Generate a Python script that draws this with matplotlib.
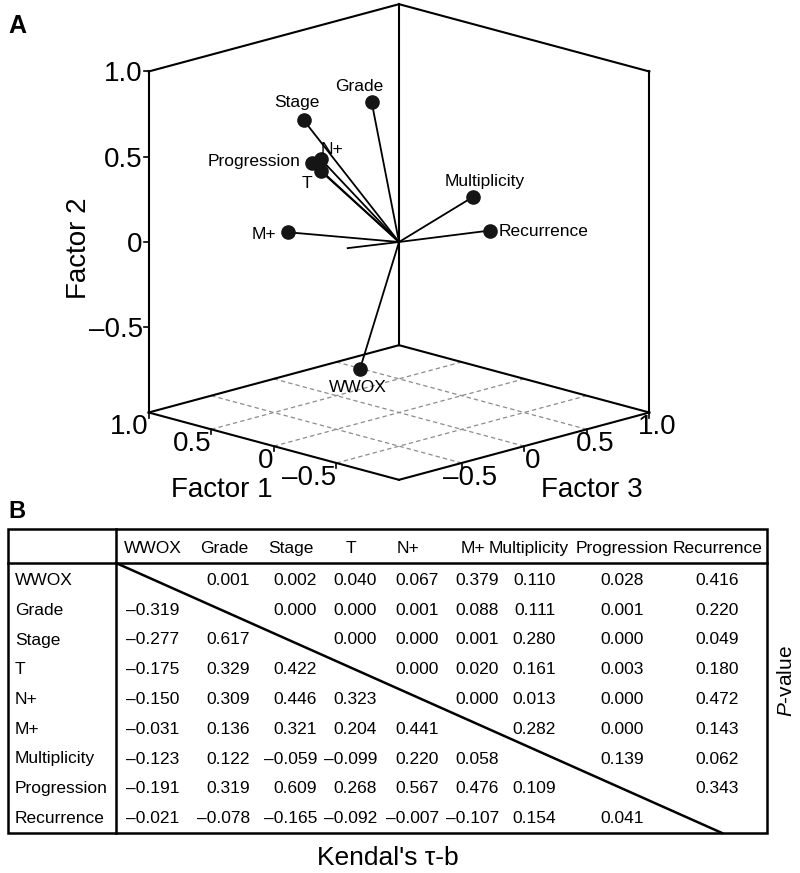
import numpy as np
import matplotlib
matplotlib.use("Agg")
import matplotlib.pyplot as plt
from matplotlib.patches import Rectangle
from mpl_toolkits.mplot3d import proj3d

plt.rcParams['font.family'] = ['Liberation Sans', 'DejaVu Sans']
plt.rcParams['mathtext.fontset'] = 'custom'
plt.rcParams['mathtext.rm'] = 'Liberation Sans'
plt.rcParams['mathtext.it'] = 'Liberation Sans:italic'

# ---------------- data: factor loadings (panel A) ----------------
variables = ['WWOX', 'Grade', 'Stage', 'T', 'N+', 'M+',
             'Multiplicity', 'Progression', 'Recurrence']
factor1 = [-0.050, 0.250, 0.720, 0.600, 0.620, 0.820, 0.050, 0.680, -0.020]
factor2 = [-0.666, 0.768, 0.580, 0.304, 0.367, -0.091, 0.128, 0.332, -0.068]
factor3 = [-0.363, 0.031, -0.041, -0.021, -0.007, -0.069, 0.642, -0.016, 0.705]
aux_vector = [0.200, -0.034, -0.210]          # short unlabeled segment (F1, F2, F3)

f2_ticks = [-0.5, 0.0, 0.5, 1.0]
f1_ticks = [1.0, 0.5, 0.0, -0.5]
f3_ticks = [-0.5, 0.0, 0.5, 1.0]
floor_grid = [-0.5, 0.0, 0.5]

# ---------------- data: Kendall tau-b / P-value table (panel B) ----------------
tau_lower = [
    [],
    [-0.319],
    [-0.277, 0.617],
    [-0.175, 0.329, 0.422],
    [-0.150, 0.309, 0.446, 0.323],
    [-0.031, 0.136, 0.321, 0.204, 0.441],
    [-0.123, 0.122, -0.059, -0.099, 0.220, 0.058],
    [-0.191, 0.319, 0.609, 0.268, 0.567, 0.476, 0.109],
    [-0.021, -0.078, -0.165, -0.092, -0.007, -0.107, 0.154, 0.041],
]
p_upper = [
    [0.001, 0.002, 0.040, 0.067, 0.379, 0.110, 0.028, 0.416],
    [0.000, 0.000, 0.001, 0.088, 0.111, 0.001, 0.220],
    [0.000, 0.000, 0.001, 0.280, 0.000, 0.049],
    [0.000, 0.020, 0.161, 0.003, 0.180],
    [0.000, 0.013, 0.000, 0.472],
    [0.282, 0.000, 0.143],
    [0.139, 0.062],
    [0.343],
    [],
]

# ---------------- figure ----------------
W, H = 800, 873
fig = plt.figure(figsize=(W / 100, H / 100), dpi=100)

# 3D axes, orthographic cube view
S = 620
cx, cy = 399.0, H - 242.0
ax = fig.add_axes([(cx - S / 2) / W, (cy - S / 2) / H, S / W, S / H],
                  projection='3d', proj_type='ortho', computed_zorder=False)
ax.view_init(elev=15.6, azim=-135)
lo, hi = -1.0, 1.0
ax.set_xlim(lo, hi); ax.set_ylim(lo, hi); ax.set_zlim(lo, hi)
ax.set_box_aspect((1, 1, 1), zoom=1.0)
ax.set_axis_off()


def P(f1, f2, f3):
    # mpl x = Factor 3, mpl y = Factor 1, mpl z = Factor 2
    return np.atleast_1d(f3), np.atleast_1d(f1), np.atleast_1d(f2)


edge_kw = dict(color='black', lw=1.5, solid_capstyle='projecting', zorder=1)
# vertical edges of the two back walls
for (a1, a3) in [(hi, lo), (hi, hi), (lo, hi)]:
    ax.plot(*P([a1, a1], [lo, hi], [a3, a3]), **edge_kw)
# top edges
ax.plot(*P([hi, hi], [hi, hi], [lo, hi]), **edge_kw)
ax.plot(*P([hi, lo], [hi, hi], [hi, hi]), **edge_kw)
# floor edges
ax.plot(*P([hi, hi], [lo, lo], [lo, hi]), **edge_kw)
ax.plot(*P([lo, lo], [lo, lo], [lo, hi]), **edge_kw)
ax.plot(*P([lo, hi], [lo, lo], [lo, lo]), **edge_kw)
ax.plot(*P([lo, hi], [lo, lo], [hi, hi]), **edge_kw)
# floor grid
grid_kw = dict(color='#8c8c8c', lw=0.9, linestyle=(0, (3.5, 2.5)), zorder=0.5)
for g in floor_grid:
    ax.plot(*P([g, g], [lo, lo], [lo, hi]), **grid_kw)
    ax.plot(*P([lo, hi], [lo, lo], [g, g]), **grid_kw)
# tick marks
tick_kw = dict(color='black', lw=1.2, zorder=1)
for t in f2_ticks:
    ax.plot(*P([hi, hi + 0.02], [t, t], [lo, lo - 0.02]), **tick_kw)
for t in f1_ticks:
    ax.plot(*P([t, t], [lo, lo - 0.03], [lo, lo]), **tick_kw)
for t in f3_ticks:
    ax.plot(*P([lo, lo], [lo, lo - 0.03], [t, t]), **tick_kw)

# loading vectors and points
vec_kw = dict(color='black', lw=1.3, zorder=3)
ax.plot(*P([0, aux_vector[0]], [0, aux_vector[1]], [0, aux_vector[2]]), **vec_kw)
for f1, f2, f3 in zip(factor1, factor2, factor3):
    ax.plot(*P([0, f1], [0, f2], [0, f3]), **vec_kw)
ax.plot(*P(factor1, factor2, factor3), linestyle='none', marker='o', ms=9.5,
        color='#151515', zorder=4)

# ---- calibrate scale and centre of the 3D view ----
fig.canvas.draw()


def to_disp(f1, f2, f3):
    X, Y, _ = proj3d.proj_transform(*P(f1, f2, f3), ax.M)
    return ax.transData.transform(np.column_stack([X, Y]))[0]


a = to_disp(0, lo, 0)
b = to_disp(0, hi, 0)
cur = (b[1] - a[1]) / 2.0
ax.set_box_aspect((1, 1, 1), zoom=170.5 / cur)
fig.canvas.draw()
c = to_disp(0, 0, 0)
pos = ax.get_position(original=True)
ax.set_position([pos.x0 + (cx - c[0]) / W, pos.y0 + (cy - c[1]) / H,
                 pos.width, pos.height])
fig.canvas.draw()

# ---------------- overlay axes in pixel units ----------------
axt = fig.add_axes([0, 0, 1, 1])
axt.set_xlim(0, W)
axt.set_ylim(H, 0)
axt.set_axis_off()
axt.patch.set_visible(False)


def disp_to_px(d):
    return d[0], H - d[1]


def fmt(v):
    if v == 0:
        return '0'
    return ('%.1f' % v).replace('-', '\u2013')


# point labels
label_place = {
    'WWOX': (-2, -17, 'center'),
    'Grade': (-12, 17, 'center'),
    'Stage': (-7, 19, 'center'),
    'T': (-14, -11, 'center'),
    'N+': (11, 11, 'center'),
    'M+': (-11, -1, 'right'),
    'Multiplicity': (12, 17, 'center'),
    'Progression': (-11, 3, 'right'),
    'Recurrence': (9, 1, 'left'),
}
for name, f1, f2, f3 in zip(variables, factor1, factor2, factor3):
    dx, dy, ha = label_place[name]
    axt.annotate(name, xy=disp_to_px(to_disp(f1, f2, f3)), xycoords='data',
                 xytext=(dx, dy), textcoords='offset pixels', ha=ha,
                 va='center_baseline', fontsize=12.5, annotation_clip=False)

# tick labels
TFS = 20
for t in f2_ticks:
    axt.annotate(fmt(t), xy=disp_to_px(to_disp(hi + 0.02, t, lo - 0.02)),
                 xytext=(-1, 0), textcoords='offset pixels', ha='right',
                 va='center_baseline', fontsize=TFS, annotation_clip=False)
for t in f1_ticks:
    axt.annotate(fmt(t), xy=disp_to_px(to_disp(t, lo, lo)),
                 xytext=(0, -2), textcoords='offset pixels', ha='right',
                 va='top', fontsize=TFS, annotation_clip=False)
for t in f3_ticks:
    axt.annotate(fmt(t), xy=disp_to_px(to_disp(lo, lo, t)),
                 xytext=(8, -2), textcoords='offset pixels', ha='center',
                 va='top', fontsize=TFS, annotation_clip=False)

# axis titles
axt.text(222, 497, 'Factor 1', ha='center', va='baseline', fontsize=20)
axt.text(592, 497, 'Factor 3', ha='center', va='baseline', fontsize=20)
axt.text(79, 248, 'Factor 2', ha='center', va='center', rotation=90, fontsize=20)

# panel letters
axt.text(8, 33, 'A', fontweight='bold', fontsize=18, va='baseline', ha='left')
axt.text(8, 518, 'B', fontweight='bold', fontsize=17, va='baseline', ha='left')

# ---------------- table (panel B) ----------------
t_left, t_right, t_top, t_bottom = 8, 767, 529, 833
head_line, div_x = 563, 116
lw_t = 1.8
axt.add_patch(Rectangle((t_left, t_top), t_right - t_left, t_bottom - t_top,
                        fill=False, lw=lw_t, ec='black'))
axt.plot([t_left, t_right], [head_line, head_line], color='black', lw=lw_t)
axt.plot([div_x, div_x], [t_top, t_bottom], color='black', lw=lw_t)
axt.plot([div_x, 722], [head_line, t_bottom], color='black', lw=lw_t)

header_cx = [153, 224, 291, 351, 408, 473, 529, 622, 718]
col_right = [179, 250, 317, 377, 439, 499, 556, 644, 739]
row_base0, row_step = 585, 29.75
FS = 12.5

for j, name in enumerate(variables):
    axt.text(header_cx[j], 553, name, ha='center', va='baseline', fontsize=FS)

for i, name in enumerate(variables):
    yb = row_base0 + i * row_step
    axt.text(15, yb, name, ha='left', va='baseline', fontsize=FS)
    for j in range(len(variables)):
        if j < i:
            v = tau_lower[i][j]
        elif j > i:
            v = p_upper[i][j - i - 1]
        else:
            continue
        axt.text(col_right[j], yb, ('%.3f' % v).replace('-', '\u2013'),
                 ha='right', va='baseline', fontsize=FS)

axt.text(388, 865, "Kendal's \u03c4-b", ha='center', va='baseline', fontsize=19)
axt.text(786, 681, '$P$-value', ha='center', va='center', rotation=90, fontsize=15)

fig.savefig('out.png', dpi=100)
